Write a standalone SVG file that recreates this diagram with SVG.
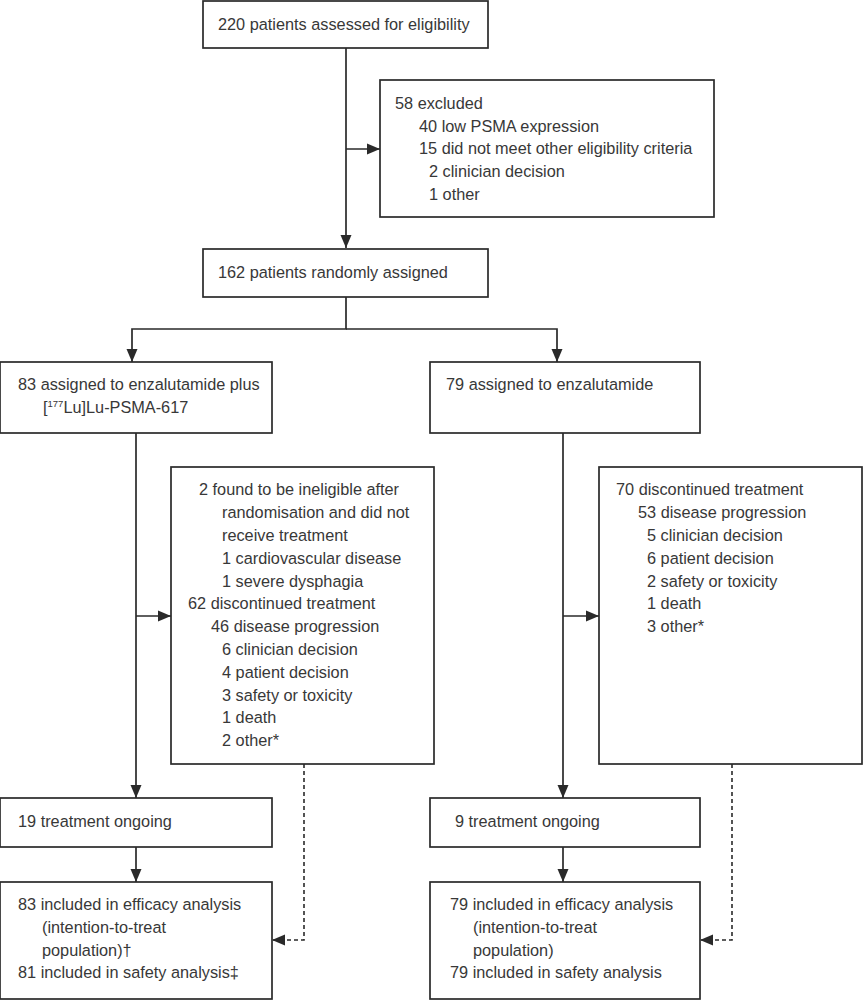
<svg xmlns="http://www.w3.org/2000/svg" width="863" height="1000" viewBox="0 0 863 1000">
<style>
.box{fill:#fff;stroke:#2a2a2a;stroke-width:1.7}
text{font-family:"Liberation Sans",Arial,sans-serif;font-size:16.3px;fill:#383838}
.ln{fill:none;stroke:#2a2a2a;stroke-width:1.7}
.dash{fill:none;stroke:#2a2a2a;stroke-width:1.6;stroke-dasharray:4 3}
</style>
<defs>
<marker id="ah" viewBox="0 0 13 13" refX="13" refY="6.5" markerWidth="13" markerHeight="13" markerUnits="userSpaceOnUse" orient="auto">
<path d="M0,1 L13,6.5 L0,12 Z" fill="#2a2a2a"/>
</marker>
</defs>
<g id="connectors">
<path class="ln" d="M346,48 V248" marker-end="url(#ah)"/>
<path class="ln" d="M346,149 H380" marker-end="url(#ah)"/>
<path class="ln" d="M346,297 V329 H132 V362" marker-end="url(#ah)"/>
<path class="ln" d="M346,329 H557 V362" marker-end="url(#ah)"/>
<path class="ln" d="M136,433 V798" marker-end="url(#ah)"/>
<path class="ln" d="M136,616 H171" marker-end="url(#ah)"/>
<path class="ln" d="M563,433 V798" marker-end="url(#ah)"/>
<path class="ln" d="M563,616 H599" marker-end="url(#ah)"/>
<path class="ln" d="M136,847 V882" marker-end="url(#ah)"/>
<path class="ln" d="M563,847 V882" marker-end="url(#ah)"/>
<path class="dash" d="M304,764 V940 H272" marker-end="url(#ah)"/>
<path class="dash" d="M732,764 V940 H700" marker-end="url(#ah)"/>
</g>
<g id="assessed">
<rect class="box" x="203" y="1" width="285" height="47"/>
<text x="218" y="30">220 patients assessed for eligibility</text>
</g>
<g id="excluded">
<rect class="box" x="380" y="80" width="334" height="137"/>
<text x="395" y="109">58 excluded</text>
<text x="419" y="132">40 low PSMA expression</text>
<text x="419" y="154">15 did not meet other eligibility criteria</text>
<text x="429" y="177">2 clinician decision</text>
<text x="429" y="200">1 other</text>
</g>
<g id="randomised">
<rect class="box" x="203" y="249" width="285" height="48"/>
<text x="218" y="278">162 patients randomly assigned</text>
</g>
<g id="arm-lu">
<rect class="box" x="0" y="362" width="272" height="71"/>
<text x="18" y="390">83 assigned to enzalutamide plus</text>
<text x="43" y="413">[<tspan font-size="9.5" dy="-6">177</tspan><tspan dy="6">Lu]Lu-PSMA-617</tspan></text>
</g>
<g id="arm-enz">
<rect class="box" x="430" y="362" width="270" height="71"/>
<text x="446" y="390">79 assigned to enzalutamide</text>
</g>
<g id="disc-lu">
<rect class="box" x="171" y="467" width="263" height="297"/>
<text x="199" y="495">2 found to be ineligible after</text>
<text x="222" y="518">randomisation and did not</text>
<text x="222" y="541">receive treatment</text>
<text x="222" y="564">1 cardiovascular disease</text>
<text x="222" y="587">1 severe dysphagia</text>
<text x="188" y="609">62 discontinued treatment</text>
<text x="211" y="632">46 disease progression</text>
<text x="222" y="655">6 clinician decision</text>
<text x="222" y="678">4 patient decision</text>
<text x="222" y="701">3 safety or toxicity</text>
<text x="222" y="723">1 death</text>
<text x="222" y="746">2 other*</text>
</g>
<g id="disc-enz">
<rect class="box" x="599" y="467" width="263" height="297"/>
<text x="616" y="495">70 discontinued treatment</text>
<text x="638" y="518">53 disease progression</text>
<text x="647" y="541">5 clinician decision</text>
<text x="647" y="564">6 patient decision</text>
<text x="647" y="587">2 safety or toxicity</text>
<text x="647" y="609">1 death</text>
<text x="647" y="632">3 other*</text>
</g>
<g id="ongoing-lu">
<rect class="box" x="0" y="798" width="272" height="49"/>
<text x="18" y="827">19 treatment ongoing</text>
</g>
<g id="ongoing-enz">
<rect class="box" x="430" y="798" width="270" height="49"/>
<text x="455" y="827">9 treatment ongoing</text>
</g>
<g id="analysis-lu">
<rect class="box" x="0" y="882" width="272" height="117"/>
<text x="18" y="910">83 included in efficacy analysis</text>
<text x="42" y="933">(intention-to-treat</text>
<text x="42" y="956">population)†</text>
<text x="18" y="978">81 included in safety analysis‡</text>
</g>
<g id="analysis-enz">
<rect class="box" x="430" y="882" width="270" height="117"/>
<text x="450" y="910">79 included in efficacy analysis</text>
<text x="473" y="933">(intention-to-treat</text>
<text x="473" y="956">population)</text>
<text x="450" y="978">79 included in safety analysis</text>
</g>
</svg>
